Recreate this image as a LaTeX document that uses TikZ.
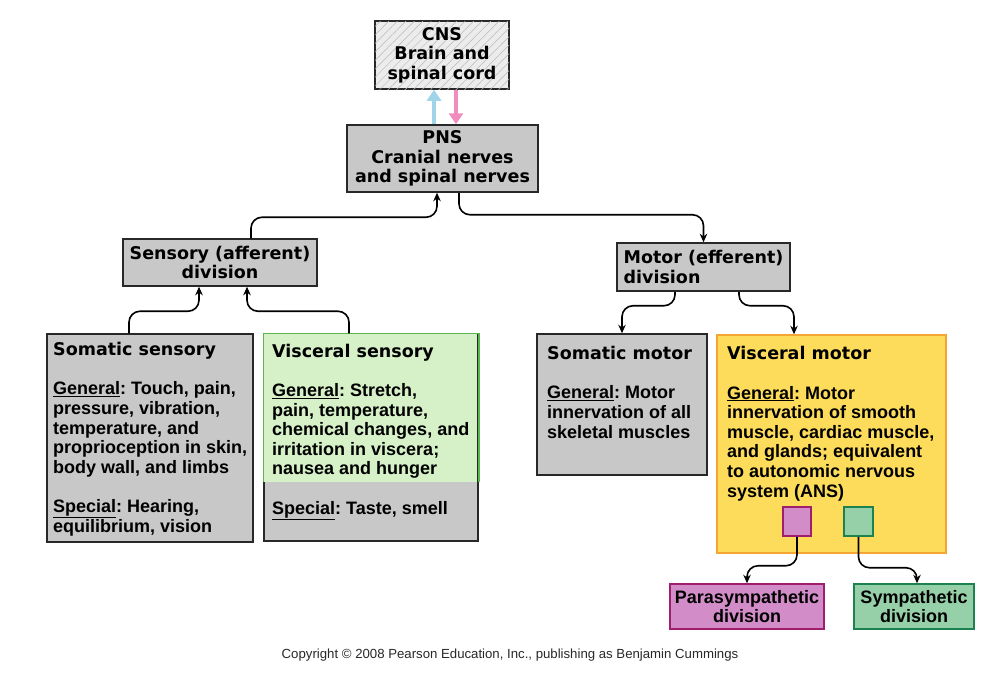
\documentclass[tikz,border=0pt]{standalone}
\usepackage{fontspec}
\setmainfont{Liberation Sans}
\newfontfamily\headfont{DejaVu Sans Bold}
\usetikzlibrary{arrows.meta,patterns.meta}
\frenchspacing

\definecolor{boxgray}{RGB}{200,200,200}
\definecolor{boxline}{RGB}{40,40,40}
\definecolor{cnsfill}{RGB}{236,236,236}
\definecolor{hatch}{RGB}{185,185,185}
\definecolor{visgreen}{RGB}{214,240,200}
\definecolor{visgreenline}{RGB}{90,180,80}
\definecolor{motyellow}{RGB}{253,220,92}
\definecolor{motorange}{RGB}{245,165,50}
\definecolor{parafill}{RGB}{210,140,200}
\definecolor{paraline}{RGB}{160,30,110}
\definecolor{sympfill}{RGB}{150,208,168}
\definecolor{sympline}{RGB}{30,130,80}
\definecolor{upblue}{RGB}{160,212,232}
\definecolor{downpink}{RGB}{240,140,190}

\tikzset{
  box/.style={draw=boxline, line width=1.5pt, fill=boxgray, inner sep=0pt,
    align=center, font=\headfont\fontsize{17.5}{19.5}\selectfont},
  body/.style={anchor=base west, align=left, inner sep=0pt,
    font=\bfseries\fontsize{18}{19.6}\selectfont},
  link/.style={line width=1.6pt, rounded corners=11pt,
    -{Stealth[length=8.5pt,width=7.5pt]}},
  bigarrow/.style={line width=4.5pt, -{Triangle[length=11pt,width=14pt]}},
}

\newcommand{\headtxt}[1]{{\headfont\fontsize{17.5}{19.6}\selectfont #1}}

\begin{document}
\begin{tikzpicture}[x=1pt,y=-1pt]
  \useasboundingbox (0,0) rectangle (1003,673);

  % boxes
  \node[box, fill=cnsfill, minimum width=134pt, minimum height=68pt,
    postaction={pattern={Lines[angle=45,distance=6pt,line width=0.5pt]}, pattern color=hatch}]
    (cns) at (442,55) {};
  \node[box, fill=none, draw=none] (cnstxt) at (cns.center) {CNS\\Brain and\\spinal cord};
  \node[box, minimum width=191pt, minimum height=67pt] (pns) at (442.5,158.5)
    {PNS\\Cranial nerves\\and spinal nerves};
  \node[box, minimum width=194pt, minimum height=47pt] (sens) at (220,262.5)
    {Sensory (afferent)\\division};
  \node[box, align=left, minimum width=173pt, minimum height=48pt] (motor) at (703.5,267)
    {Motor (efferent)\\division};

  \node[box, minimum width=206pt, minimum height=208pt] (somsens) at (150,438) {};
  \node[box, minimum width=214pt, minimum height=207pt] (vissens) at (371,437.5) {};
  \fill[visgreen] ([shift={(0.75pt,0.75pt)}]vissens.north west) rectangle (477.25,482);
  \draw[visgreenline, line width=1.5pt] (vissens.west |- 0,482) |- (vissens.north east)
    -- (vissens.east |- 0,482);
  \node[box, minimum width=170pt, minimum height=141pt] (sommot) at (622,404.5) {};
  \node[box, fill=motyellow, draw=motorange, minimum width=229pt, minimum height=218pt]
    (vismot) at (831.5,444) {};

  \node[box, fill=parafill, draw=paraline, minimum width=28pt, minimum height=29pt]
    (parasq) at (797,521.5) {};
  \node[box, fill=sympfill, draw=sympline, minimum width=29pt, minimum height=29pt]
    (sympsq) at (858.5,521.5) {};
  \node[box, fill=parafill, draw=paraline, minimum width=154pt, minimum height=45pt,
    font=\bfseries\fontsize{18}{19.5}\selectfont] (para) at (747,606.5)
    {Parasympathetic\\division};
  \node[box, fill=sympfill, draw=sympline, minimum width=120pt, minimum height=45pt,
    font=\bfseries\fontsize{18}{19.5}\selectfont] (symp) at (914,606.5)
    {Sympathetic\\division};

  % box texts (anchored on the last line)
  \node[body] (somsenstxt) at (53,532) {\headtxt{Somatic sensory}\\[19.6pt]
    \underline{General}: Touch, pain,\\ pressure, vibration,\\ temperature, and\\
    proprioception in skin,\\ body wall, and limbs\\[19.6pt]
    \underline{Special}: Hearing,\\ equilibrium, vision};
  \node[body] (vissenstxt) at (272,514) {\headtxt{Visceral sensory}\\[19.6pt]
    \underline{General}: Stretch,\\ pain, temperature,\\ chemical changes, and\\
    irritation in viscera;\\ nausea and hunger\\[19.6pt]
    \underline{Special}: Taste, smell};
  \node[body] (sommottxt) at (547,438) {\headtxt{Somatic motor}\\[19.6pt]
    \underline{General}: Motor\\ innervation of all\\ skeletal muscles};
  \node[body] (vismottxt) at (727,497) {\headtxt{Visceral motor}\\[19.6pt]
    \underline{General}: Motor\\ innervation of smooth\\ muscle, cardiac muscle,\\
    and glands; equivalent\\ to autonomic nervous\\ system (ANS)};

  % CNS <-> PNS
  \draw[bigarrow, upblue] ([xshift=-8.5pt]pns.north) -- ([xshift=-8pt]cns.south);
  \draw[bigarrow, downpink] ([xshift=14pt]cns.south) -- ([xshift=13.5pt]pns.north);

  % connectors
  \draw[link] ([xshift=31pt]sens.north) -- ++(0,-21) -| ([xshift=-5.5pt]pns.south);
  \draw[link] ([xshift=16.5pt]pns.south) -- ++(0,22) -| (motor.north);
  \draw[link] ([xshift=-21pt]somsens.north) -- ++(0,-22) -| ([xshift=-21pt]sens.south);
  \draw[link] ([xshift=-22pt]vissens.north) -- ++(0,-22) -| ([xshift=27pt]sens.south);
  \draw[link] ([xshift=-28.5pt]motor.south) -- ++(0,14) -| (sommot.north);
  \draw[link] ([xshift=35.5pt]motor.south) -- ++(0,14) -| ([xshift=-37.5pt]vismot.north);
  \draw[link] (parasq.south) -- ++(0,29) -| (para.north);
  \draw[link] (sympsq.south) -- ++(0,31) -| ([xshift=3pt]symp.north);

  \node[font=\fontsize{13.2}{15}\selectfont, text=boxline] (copy) at (510,655)
    {Copyright © 2008 Pearson Education, Inc., publishing as Benjamin Cummings};
\end{tikzpicture}
\end{document}
